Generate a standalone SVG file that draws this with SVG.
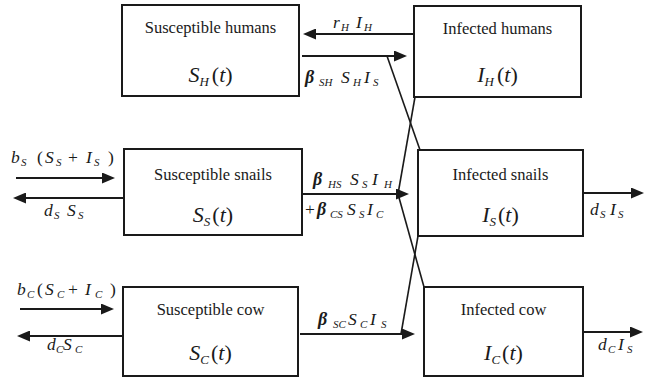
<svg xmlns="http://www.w3.org/2000/svg" width="656" height="380" viewBox="0 0 656 380">
<style>
.box{fill:#fff;stroke:#1a1a1a;stroke-width:2}
.ln{fill:none;stroke:#1a1a1a;stroke-width:1.6}
.ar{fill:none;stroke:#1a1a1a;stroke-width:1.8;marker-end:url(#ah)}
text{font-family:"Liberation Serif","Times New Roman",serif;fill:#1a1a1a}
.name{font-size:16.5px;text-anchor:middle}
.var{font-size:22px;text-anchor:middle;font-style:italic}
.vs{font-size:13px}
.lbl{font-size:17.5px;font-style:italic}
.s{font-size:11px}
.b{font-weight:bold;font-size:18px}
.n{font-style:normal}
</style>
<defs>
<marker id="ah" markerUnits="userSpaceOnUse" markerWidth="13" markerHeight="11" refX="10" refY="5.5" orient="auto">
<path d="M0,0 L13,5.5 L0,11 z" fill="#1a1a1a"/>
</marker>
</defs>

<g id="connectors">
<line class="ar" x1="414" y1="34" x2="306" y2="34"/>
<line class="ar" x1="302" y1="56" x2="404" y2="56"/>
<line class="ar" x1="16" y1="178" x2="112" y2="178"/>
<line class="ar" x1="124" y1="198" x2="16" y2="198"/>
<line class="ar" x1="302" y1="194" x2="406" y2="194"/>
<line class="ar" x1="583" y1="193" x2="641" y2="193"/>
<line class="ar" x1="20" y1="309" x2="111" y2="309"/>
<line class="ar" x1="123" y1="336" x2="20" y2="336"/>
<line class="ar" x1="300" y1="334" x2="412" y2="334"/>
<line class="ar" x1="583" y1="332" x2="640" y2="332"/>
<line class="ln" x1="387" y1="56" x2="420" y2="150"/>
<line class="ln" x1="415" y1="97" x2="398" y2="194"/>
<line class="ln" x1="398" y1="194" x2="424" y2="287"/>
<line class="ln" x1="418" y1="236" x2="401" y2="334"/>
</g>

<g id="susceptible-humans">
<rect class="box" x="122" y="5" width="177" height="91"/>
<text class="name" x="210.5" y="33">Susceptible humans</text>
<text class="var" x="210.5" y="82">S<tspan class="vs" dy="4">H</tspan><tspan class="n" dy="-4" dx="3">(</tspan>t<tspan class="n">)</tspan></text>
</g>

<g id="infected-humans">
<rect class="box" x="414" y="6" width="167" height="91"/>
<text class="name" x="497.5" y="34">Infected humans</text>
<text class="var" x="497.5" y="82">I<tspan class="vs" dy="4">H</tspan><tspan class="n" dy="-4" dx="3">(</tspan>t<tspan class="n">)</tspan></text>
</g>

<g id="susceptible-snails">
<rect class="box" x="124" y="149" width="178" height="86"/>
<text class="name" x="213" y="180">Susceptible snails</text>
<text class="var" x="213" y="222">S<tspan class="vs" dy="4">S</tspan><tspan class="n" dy="-4" dx="2">(</tspan>t<tspan class="n">)</tspan></text>
</g>

<g id="infected-snails">
<rect class="box" x="418" y="150" width="165" height="86"/>
<text class="name" x="500.5" y="180">Infected snails</text>
<text class="var" x="500.5" y="222">I<tspan class="vs" dy="4">S</tspan><tspan class="n" dy="-4" dx="2">(</tspan>t<tspan class="n">)</tspan></text>
</g>

<g id="susceptible-cow">
<rect class="box" x="123" y="287" width="175" height="89"/>
<text class="name" x="210.5" y="315">Susceptible cow</text>
<text class="var" x="210.5" y="360">S<tspan class="vs" dy="4">C</tspan><tspan class="n" dy="-4" dx="2">(</tspan>t<tspan class="n">)</tspan></text>
</g>

<g id="infected-cow">
<rect class="box" x="424" y="287" width="159" height="89"/>
<text class="name" x="503.5" y="315">Infected cow</text>
<text class="var" x="503.5" y="360">I<tspan class="vs" dy="4">C</tspan><tspan class="n" dy="-4" dx="2">(</tspan>t<tspan class="n">)</tspan></text>
</g>

<g id="labels">
<text class="lbl"><tspan x="333" y="28">r</tspan><tspan class="s" x="341" y="31">H</tspan><tspan x="356" y="28">I</tspan><tspan class="s" x="364" y="31">H</tspan></text>
<text class="lbl"><tspan class="b" x="305" y="83">β</tspan><tspan class="s" x="319" y="86">SH</tspan><tspan x="341" y="83">S</tspan><tspan class="s" x="353" y="86">H</tspan><tspan x="364" y="83">I</tspan><tspan class="s" x="373" y="86">S</tspan></text>
<text class="lbl"><tspan x="11" y="163">b</tspan><tspan class="s" x="21" y="166">S</tspan><tspan class="n" x="37" y="163">(</tspan><tspan x="45" y="163">S</tspan><tspan class="s" x="56" y="166">S</tspan><tspan class="n" x="68" y="163">+</tspan><tspan x="86" y="163">I</tspan><tspan class="s" x="94" y="166">S</tspan><tspan class="n" x="108" y="163">)</tspan></text>
<text class="lbl"><tspan x="44" y="216">d</tspan><tspan class="s" x="54" y="219">S</tspan><tspan x="67" y="216">S</tspan><tspan class="s" x="78" y="219">S</tspan></text>
<text class="lbl"><tspan class="b" x="313" y="185">β</tspan><tspan class="s" x="328" y="188">HS</tspan><tspan x="350" y="185">S</tspan><tspan class="s" x="362" y="188">S</tspan><tspan x="372" y="185">I</tspan><tspan class="s" x="384" y="188">H</tspan></text>
<text class="lbl"><tspan class="n" x="305" y="215">+</tspan><tspan class="b" x="317" y="215">β</tspan><tspan class="s" x="330" y="218">CS</tspan><tspan x="347" y="215">S</tspan><tspan class="s" x="359" y="218">S</tspan><tspan x="367" y="215">I</tspan><tspan class="s" x="376" y="218">C</tspan></text>
<text class="lbl"><tspan x="590" y="215">d</tspan><tspan class="s" x="600" y="218">S</tspan><tspan x="610" y="215">I</tspan><tspan class="s" x="618" y="218">S</tspan></text>
<text class="lbl"><tspan x="17" y="295">b</tspan><tspan class="s" x="27" y="298">C</tspan><tspan class="n" x="37" y="295">(</tspan><tspan x="45" y="295">S</tspan><tspan class="s" x="57" y="298">C</tspan><tspan class="n" x="68" y="295">+</tspan><tspan x="85" y="295">I</tspan><tspan class="s" x="95" y="298">C</tspan><tspan class="n" x="110" y="295">)</tspan></text>
<text class="lbl"><tspan x="47" y="350">d</tspan><tspan class="s" x="56" y="353">C</tspan><tspan x="63" y="350">S</tspan><tspan class="s" x="75" y="353">C</tspan></text>
<text class="lbl"><tspan class="b" x="318" y="325">β</tspan><tspan class="s" x="333" y="328">SC</tspan><tspan x="348" y="325">S</tspan><tspan class="s" x="360" y="328">C</tspan><tspan x="370" y="325">I</tspan><tspan class="s" x="381" y="328">S</tspan></text>
<text class="lbl"><tspan x="598" y="350">d</tspan><tspan class="s" x="608" y="353">C</tspan><tspan x="618" y="350">I</tspan><tspan class="s" x="627" y="353">S</tspan></text>
</g>
</svg>
